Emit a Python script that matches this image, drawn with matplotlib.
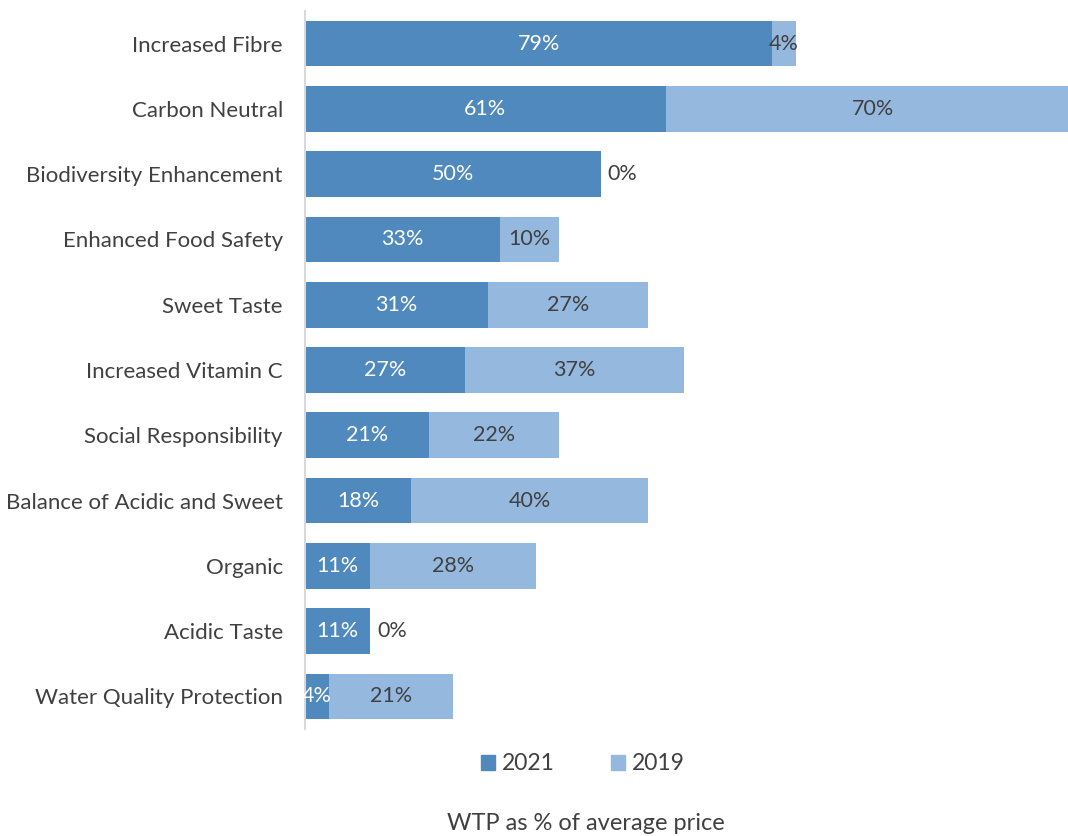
import matplotlib
matplotlib.use('Agg')
import matplotlib.pyplot as plt
from matplotlib.patches import Patch

plt.rcParams['font.family'] = ['Lato', 'DejaVu Sans']

# attributes, top to bottom
attributes = ['Increased Fibre', 'Carbon Neutral', 'Biodiversity Enhancement',
              'Enhanced Food Safety', 'Sweet Taste', 'Increased Vitamin C',
              'Social Responsibility', 'Balance of Acidic and Sweet', 'Organic',
              'Acidic Taste', 'Water Quality Protection']
wtp_2021 = [79, 61, 50, 33, 31, 27, 21, 18, 11, 11, 4]
wtp_2019 = [4, 70, 0, 10, 27, 37, 22, 40, 28, 0, 21]

c2021 = '#4F89BD'
c2019 = '#95B8DF'
txt = '#404040'

fig = plt.figure(figsize=(10.68, 8.36), dpi=100)
ax = fig.add_axes([305 / 1068, 1 - 729 / 836, 763 / 1068, 718 / 836])

y = list(range(len(attributes)))
ax.barh(y, wtp_2021, height=0.7, color=c2021)
ax.barh(y, wtp_2019, left=wtp_2021, height=0.7, color=c2019)

for i, (a, b) in enumerate(zip(wtp_2021, wtp_2019)):
    ax.text(a / 2, i, f'{a}%', ha='center', va='center', color='white', fontsize=15.5)
    if b == 0:
        ax.annotate(f'{b}%', (a, i), xytext=(5, 0), textcoords='offset points',
                    ha='left', va='center', color=txt, fontsize=15.5)
    else:
        ax.text(a + b / 2, i, f'{b}%', ha='center', va='center', color=txt, fontsize=15.5)

ax.set_xlim(0, 129)
ax.set_ylim(len(attributes) - 0.5, -0.5)
ax.set_yticks(y)
ax.set_yticklabels(attributes, fontsize=16, color=txt)
ax.tick_params(axis='y', length=0, pad=16)
ax.set_xticks([])
for s in ['top', 'right', 'bottom']:
    ax.spines[s].set_visible(False)
ax.spines['left'].set_color('#D9D9D9')
ax.spines['left'].set_linewidth(1.5)

handles = [Patch(color=c2021, label='2021'), Patch(color=c2019, label='2019')]
fig.legend(handles=handles, loc='center', bbox_to_anchor=(583 / 1068, 1 - 764 / 836),
           ncol=2, frameon=False, fontsize=16.5, handlelength=0.6, handleheight=0.6,
           handletextpad=0.3, columnspacing=2.45, labelcolor=txt)

fig.text(586 / 1068, 1 - 823 / 836, 'WTP as % of average price', ha='center',
         va='center', fontsize=17, color=txt)

fig.savefig('out.png', dpi=100)
